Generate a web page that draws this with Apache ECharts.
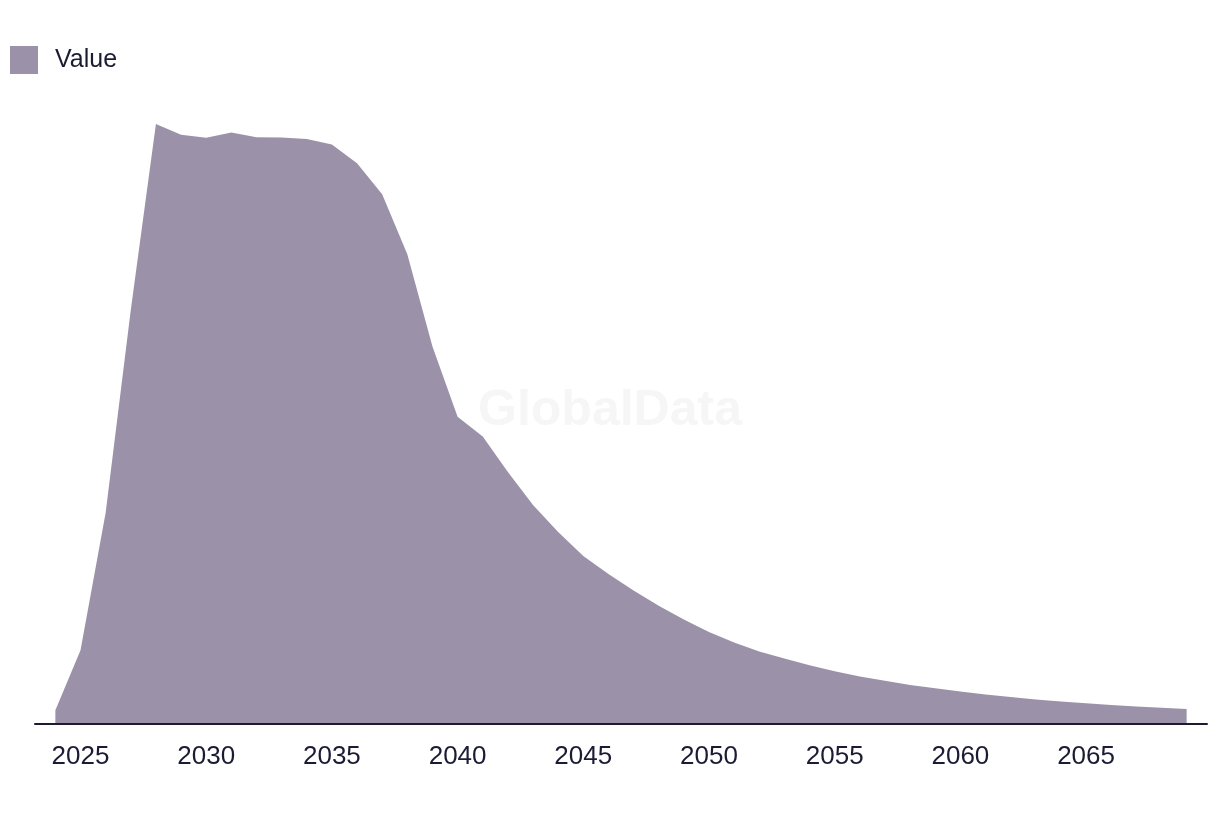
<!DOCTYPE html>
<html>
<head>
<meta charset="utf-8">
<style>
  html, body { margin: 0; padding: 0; background: #ffffff; }
  #chart { width: 1220px; height: 814px; }
</style>
<script src="https://cdn.jsdelivr.net/npm/echarts@6/dist/echarts.min.js"></script>
</head>
<body>
<div id="chart"></div>
<script>
// ---- Data ----
const years = [
  2024, 2025, 2026, 2027, 2028, 2029, 2030, 2031, 2032, 2033,
  2034, 2035, 2036, 2037, 2038, 2039, 2040, 2041, 2042, 2043,
  2044, 2045, 2046, 2047, 2048, 2049, 2050, 2051, 2052, 2053,
  2054, 2055, 2056, 2057, 2058, 2059, 2060, 2061, 2062, 2063,
  2064, 2065, 2066, 2067, 2068, 2069
];
const values = [
  2.3, 12.3, 35.2, 69.0, 100.0, 98.2, 97.7, 98.6, 97.8, 97.75,
  97.5, 96.6, 93.45, 88.3, 78.3, 62.9, 51.2, 47.9, 42.0, 36.5,
  32.0, 28.0, 25.0, 22.25, 19.7, 17.4, 15.35, 13.6, 12.1, 10.9,
  9.8, 8.8, 7.9, 7.2, 6.5, 5.95, 5.4, 4.9, 4.5, 4.1,
  3.75, 3.45, 3.15, 2.9, 2.7, 2.5
];
const tickLabels = [2025, 2030, 2035, 2040, 2045, 2050, 2055, 2060, 2065];
const seriesName = 'Value';
const watermark = 'GlobalData';

const textColor = '#1b1b33';
const areaColor = '#9b92aa';

const chart = echarts.init(document.getElementById('chart'), null, { renderer: 'canvas' });

const option = {
  animation: false,
  backgroundColor: '#ffffff',
  textStyle: { fontFamily: 'Liberation Sans, Arial, sans-serif' },
  graphic: [{
    type: 'text',
    left: 'center',
    top: 386,
    z: 0,
    silent: true,
    style: {
      text: watermark,
      fill: '#f6f6f6',
      font: 'bold 50px "Liberation Sans", Arial, sans-serif'
    }
  }],
  legend: {
    show: true,
    left: 10,
    top: 46,
    padding: 0,
    itemWidth: 28,
    itemHeight: 28,
    icon: 'rect',
    data: [seriesName],
    textStyle: {
      color: textColor,
      fontSize: 25,
      padding: [0, 0, 4, 12],
      fontFamily: 'Liberation Sans, Arial, sans-serif'
    }
  },
  grid: {
    left: 35,
    right: 13,
    top: 124,
    bottom: 90,
    containLabel: false
  },
  xAxis: {
    type: 'value',
    min: 2023.19,
    max: 2069.81,
    z: 5,
    axisLine: { show: true, lineStyle: { color: textColor, width: 2 } },
    axisTick: { show: false },
    splitLine: { show: false },
    axisLabel: {
      customValues: tickLabels,
      color: textColor,
      fontSize: 26,
      margin: 20,
      formatter: (v) => String(v),
      fontFamily: 'Liberation Sans, Arial, sans-serif'
    }
  },
  yAxis: {
    type: 'value',
    min: 0,
    max: 100,
    show: false,
    splitLine: { show: false }
  },
  series: [{
    name: seriesName,
    type: 'line',
    data: years.map((y, i) => [y, values[i]]),
    symbol: 'none',
    showSymbol: false,
    smooth: false,
    lineStyle: { width: 0, color: areaColor },
    itemStyle: { color: areaColor },
    areaStyle: { color: areaColor, opacity: 1 },
    z: 2
  }]
};

chart.setOption(option);
</script>
</body>
</html>
